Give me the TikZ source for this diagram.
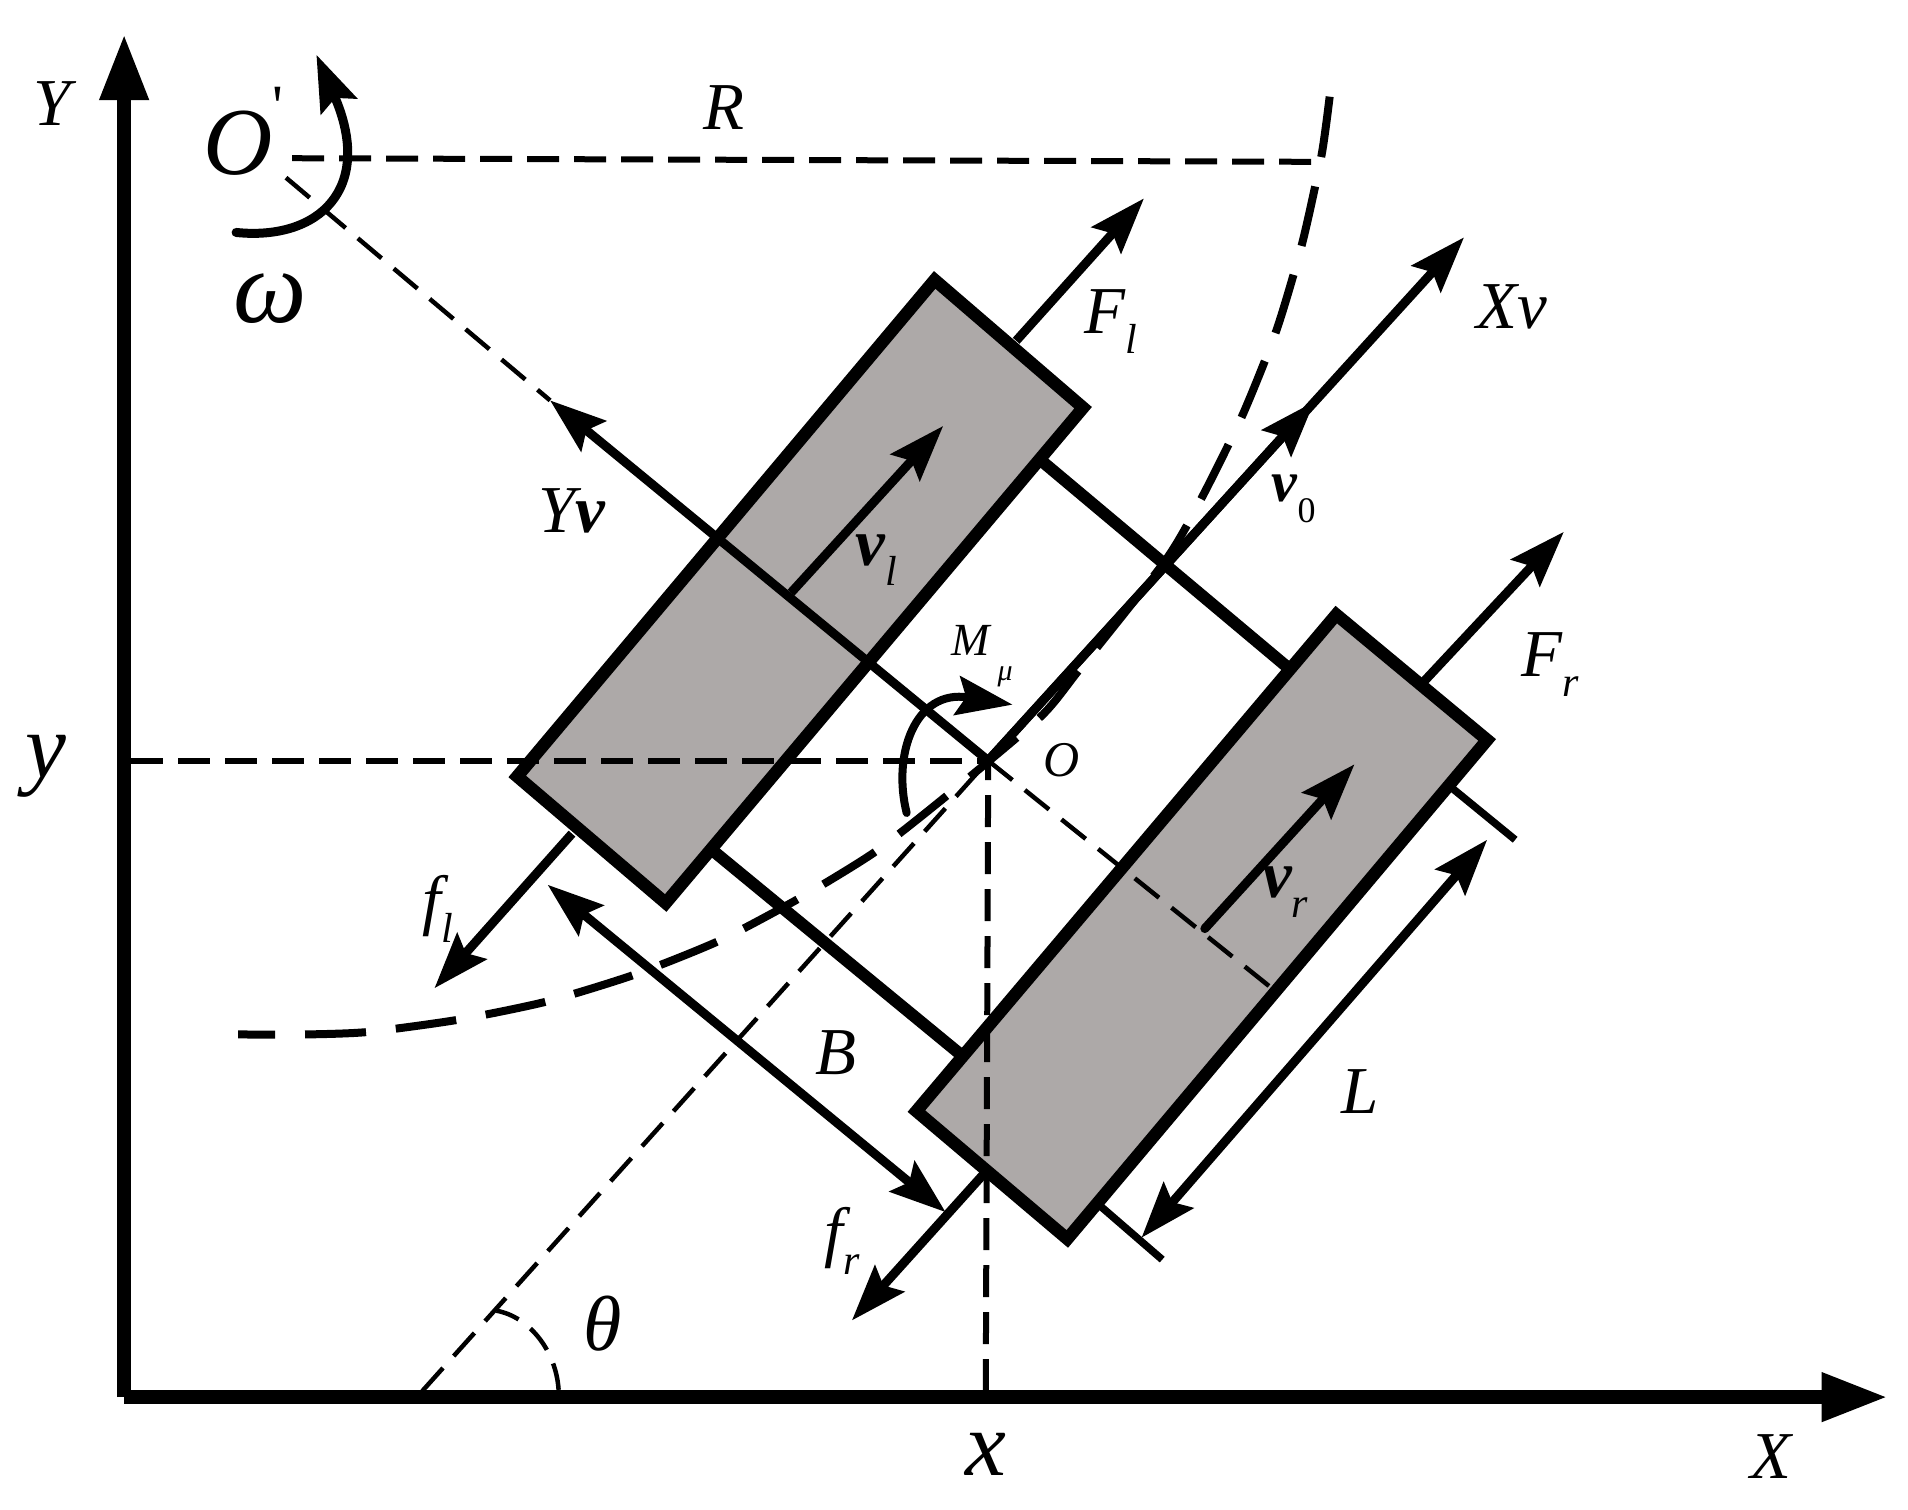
\documentclass[tikz,border=0pt]{standalone}
\usepackage{fontspec}
\setmainfont{Liberation Serif}
\usetikzlibrary{arrows.meta}
\tikzset{>={Stealth[length=56pt,width=39pt,inset=9pt]}}
\definecolor{wheelgray}{HTML}{ADA9A8}
\tikzset{
  wheelbox/.style={draw,fill=wheelgray,line width=12.5pt,line join=miter},
  axis/.style={line width=13.5pt,-{Triangle[length=66pt,width=46pt]}},
  axle/.style={line width=12pt},
  force/.style={line width=9pt,->},
  thindash/.style={line width=4.5pt,dash pattern=on 31pt off 16pt},
  refdash/.style={line width=6pt,dash pattern=on 32pt off 15pt},
  pathdash/.style={line width=8pt,dash pattern=on 61pt off 30pt,dash phase=24pt},
  lab/.style={inner sep=0pt,font=\fontsize{67}{67}\selectfont\itshape}
}
\newcommand\Sub[2]{#1\raisebox{-0.3em}{\fontsize{42}{42}\selectfont\mdseries #2}}
\begin{document}
\begin{tikzpicture}[x=1.217pt,y=-1.217pt]
  \useasboundingbox (0,0) rectangle (1567.8,1240);

  \coordinate (org) at (102,1148);
  \coordinate (ytip) at (102,28);
  \coordinate (xtip) at (1551,1148);
  \coordinate (o) at (812,625);
  \coordinate (ya) at (108,625);
  \coordinate (xa) at (810,1143);
  \coordinate (ob) at (812,628);
  \coordinate (thetaa) at (347,1143);

  % wheels
  \draw[wheelbox] (768,230) coordinate (lt) -- (890,335) coordinate (lr)
    -- (547,742) coordinate (lb) -- (425,638) coordinate (ll) -- cycle;
  \draw[wheelbox] (1098,505) coordinate (rt) -- (1222,608) coordinate (rr)
    -- (877,1018) coordinate (rb) -- (753,913) coordinate (rl) -- cycle;

  % axles
  \coordinate (a1) at (855,378);
  \coordinate (a2) at (1060,550);
  \coordinate (a3) at (587,700);
  \coordinate (a4) at (790,867);
  \draw[axle] (a1) -- (a2);
  \draw[axle] (a3) -- (a4);

  % reference lines
  \coordinate (oo) at (235,146);
  \coordinate (yvtip) at (452,329);
  \coordinate (rs) at (240,130);
  \coordinate (re) at (1088,133);
  \coordinate (dr) at (1045,812);
  \draw[refdash] (ya) -- (o);
  \draw[refdash] (xa) -- (ob);
  \draw[refdash] (rs) -- (re);
  \draw[thindash] (oo) -- (yvtip);
  \draw[thindash] (o) -- (dr);
  \draw[thindash] (thetaa) -- (o);
  \draw[line width=4.5pt,dash pattern=on 27pt off 15pt]
    (459,1142) .. controls (457,1110) and (435,1082) .. (408,1077);

  % trajectory
  \draw[pathdash] plot[smooth,tension=0.4] coordinates {(195.6,850) (251,850)
    (302,848) (376,838) (449,823) (521,801) (591,773) (657,738) (719,700)
    (779,653) (855,589) (887,550) (958,460) (988,408) (1021,341) (1049,271)
    (1070,200) (1086,127) (1093,76)};

  % body axes
  \coordinate (v0tip) at (1080,330);
  \coordinate (xvtip) at (1203,195);
  \draw[force] (o) -- (yvtip);
  \draw[force] (o) -- (xvtip);
  \draw[force] (o) -- (v0tip);

  % forces and speeds
  \coordinate (fla) at (835,280);
  \coordinate (flb) at (940,163);
  \coordinate (fra) at (1170,560);
  \coordinate (frb) at (1285,437);
  \coordinate (sla) at (470,685);
  \coordinate (slb) at (357,812);
  \coordinate (sra) at (808,965);
  \coordinate (srb) at (700,1085);
  \coordinate (vla) at (650,487);
  \coordinate (vlb) at (775,350);
  \coordinate (vra) at (990,763);
  \coordinate (vrb) at (1113,628);
  \draw[force] (fla) -- (flb);
  \draw[force] (fra) -- (frb);
  \draw[force] (sla) -- (slb);
  \draw[force] (sra) -- (srb);
  \draw[force] (vla) -- (vlb);
  \draw[force,line cap=round] (vra) -- (vrb);

  % dimensions
  \coordinate (ba) at (450,727);
  \coordinate (bb) at (777,996);
  \coordinate (la) at (1222,690);
  \coordinate (lc) at (938,1017);
  \coordinate (e1) at (1190,645);
  \coordinate (e2) at (1245,690);
  \coordinate (e3) at (903,990);
  \coordinate (e4) at (955,1035);
  \draw[force,<->] (ba) -- (bb);
  \draw[force,<->] (la) -- (lc);
  \draw[line width=7.5pt] (e1) -- (e2);
  \draw[line width=7.5pt] (e3) -- (e4);

  % moments
  \coordinate (ma) at (745,668);
  \coordinate (mb) at (832,579);
  \coordinate (wa) at (194,191);
  \coordinate (wb) at (260,45);
  \draw[line width=8pt,line cap=round,->]
    (ma) .. controls (733,620) and (752,566) .. (mb);
  \draw[line width=9pt,line cap=round,->]
    (wa) .. controls (262,198) and (308,155) .. (wb);

  % axes on top
  \draw[axis] (org) -- (ytip);
  \draw[axis] (org) -- (xtip);

  % labels
  \node[lab] (laby) at (43,85) {Y};
  \node[lab] (labx) at (1455,1197) {X};
  \node[lab] (labr) at (595,88) {R};
  \node[lab,font=\fontsize{96}{96}\selectfont\itshape] (labo1) at (200,108)
    {O\raisebox{0.5em}{\fontsize{60}{60}\selectfont\upshape\textquotesingle}};
  \node[lab,font=\fontsize{104}{104}\selectfont\itshape] (labw) at (222,245) {ω};
  \node[lab,font=\fontsize{78}{78}\selectfont\itshape] (labt) at (495,1088) {θ};
  \node[lab,font=\fontsize{92}{92}\selectfont\itshape] (labys) at (38,630) {y};
  \node[lab,font=\fontsize{92}{92}\selectfont\itshape] (labxs) at (810,1195) {x};
  \node[lab] (labfl) at (913,264) {\Sub{F}{l}};
  \node[lab] (labfr) at (1274,546) {\Sub{F}{r}};
  \node[lab] (labsl) at (360,747) {\Sub{f}{l}};
  \node[lab] (labsr) at (692,1020) {\Sub{f}{r}};
  \node[lab,font=\fontsize{67}{67}\selectfont\itshape\bfseries] (labvl) at (720,460) {\Sub{v}{l}};
  \node[lab,font=\fontsize{67}{67}\selectfont\itshape\bfseries] (labvr) at (1056,733) {\Sub{v}{r}};
  \node[lab,font=\fontsize{58}{58}\selectfont\itshape\bfseries] (labv0) at (1063,410)
    {v\raisebox{-0.36em}{\fontsize{36}{36}\selectfont\upshape\mdseries 0}};
  \node[lab] (labxv) at (1242,252) {Xv};
  \node[lab] (labyv) at (470,420) {Y\textbf{v}};
  \node[lab] (labb) at (687,865) {B};
  \node[lab] (labl) at (1118,897) {L};
  \node[lab,font=\fontsize{46}{46}\selectfont\itshape] (labm) at (807,539)
    {M\,\raisebox{-0.55em}{\fontsize{30}{30}\selectfont μ}};
  \node[lab,font=\fontsize{50}{50}\selectfont\itshape] (labo) at (872,625) {O};
\end{tikzpicture}
\end{document}
